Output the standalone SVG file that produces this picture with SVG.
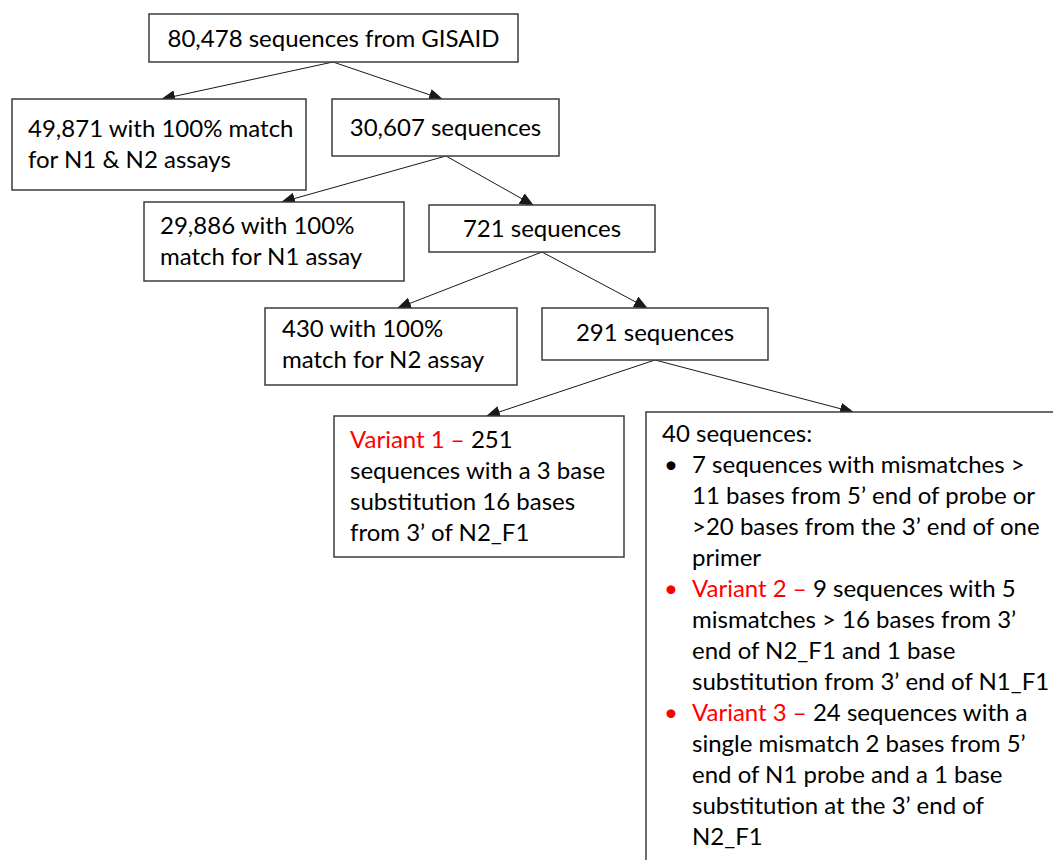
<svg xmlns="http://www.w3.org/2000/svg" width="1053" height="860" viewBox="0 0 1053 860">
<style>
.box{fill:#ffffff;stroke:#3c3c3c;stroke-width:1.5}
.t{font-family:Lato,"Liberation Sans",sans-serif;font-size:24px;fill:#000000}
.c{text-anchor:middle}
.red{fill:#ff0000}
.conn line{stroke:#1a1a1a;stroke-width:1;marker-end:url(#ah)}
</style>
<defs>
<marker id="ah" markerUnits="userSpaceOnUse" markerWidth="14" markerHeight="12" refX="13" refY="6" orient="auto" viewBox="0 0 14 12">
<path d="M0,0 L14,6 L0,12 z" fill="#1a1a1a"/>
</marker>
</defs>
<rect width="1053" height="860" fill="#ffffff"/>
<g id="connectors" class="conn">
<line x1="333" y1="62" x2="162" y2="99"/>
<line x1="333" y1="62" x2="442" y2="99"/>
<line x1="446" y1="156" x2="282" y2="202"/>
<line x1="446" y1="156" x2="533" y2="205"/>
<line x1="542" y1="252" x2="398" y2="308"/>
<line x1="542" y1="252" x2="647" y2="308"/>
<line x1="655" y1="360" x2="487" y2="416"/>
<line x1="655" y1="360" x2="853" y2="412"/>
</g>
<g id="n1">
<rect class="box" x="149" y="14" width="369" height="48"/>
<text class="t c" x="333.5" y="47">80,478 sequences from GISAID</text>
</g>
<g id="n2">
<rect class="box" x="12" y="99" width="294" height="91"/>
<text class="t" x="28" y="137">49,871 with 100% match</text>
<text class="t" x="28" y="168">for N1 &amp; N2 assays</text>
</g>
<g id="n3">
<rect class="box" x="332" y="99" width="227" height="57"/>
<text class="t c" x="445.5" y="136">30,607 sequences</text>
</g>
<g id="n4">
<rect class="box" x="144" y="202" width="260" height="79"/>
<text class="t" x="160" y="234">29,886 with 100%</text>
<text class="t" x="160" y="265">match for N1 assay</text>
</g>
<g id="n5">
<rect class="box" x="429" y="205" width="226" height="47"/>
<text class="t c" x="542" y="237">721 sequences</text>
</g>
<g id="n6">
<rect class="box" x="265" y="308" width="252" height="77"/>
<text class="t" x="282" y="337">430 with 100%</text>
<text class="t" x="282" y="368">match for N2 assay</text>
</g>
<g id="n7">
<rect class="box" x="542" y="308" width="226" height="52"/>
<text class="t c" x="655" y="341">291 sequences</text>
</g>
<g id="n8">
<rect class="box" x="334" y="416" width="290" height="141"/>
<text class="t" x="350" y="448"><tspan class="red">Variant 1 –</tspan> 251</text>
<text class="t" x="350" y="479">sequences with a 3 base</text>
<text class="t" x="350" y="510">substitution 16 bases</text>
<text class="t" x="350" y="541">from 3’ of N2_F1</text>
</g>
<g id="n9">
<rect class="box" x="646" y="412" width="420" height="470"/>
<text class="t" x="662" y="442">40 sequences:</text>
<text class="t" x="664" y="473">•</text>
<text class="t" x="692" y="473">7 sequences with mismatches &gt;</text>
<text class="t" x="692" y="504">11 bases from 5’ end of probe or</text>
<text class="t" x="692" y="535">&gt;20 bases from the 3’ end of one</text>
<text class="t" x="692" y="566">primer</text>
<text class="t red" x="664" y="597">•</text>
<text class="t" x="692" y="597"><tspan class="red">Variant 2 –</tspan> 9 sequences with 5</text>
<text class="t" x="692" y="628">mismatches &gt; 16 bases from 3’</text>
<text class="t" x="692" y="659">end of N2_F1 and 1 base</text>
<text class="t" x="692" y="690">substitution from 3’ end of N1_F1</text>
<text class="t red" x="664" y="721">•</text>
<text class="t" x="692" y="721"><tspan class="red">Variant 3 –</tspan> 24 sequences with a</text>
<text class="t" x="692" y="752">single mismatch 2 bases from 5’</text>
<text class="t" x="692" y="783">end of N1 probe and a 1 base</text>
<text class="t" x="692" y="814">substitution at the 3’ end of</text>
<text class="t" x="692" y="845">N2_F1</text>
</g>
</svg>
